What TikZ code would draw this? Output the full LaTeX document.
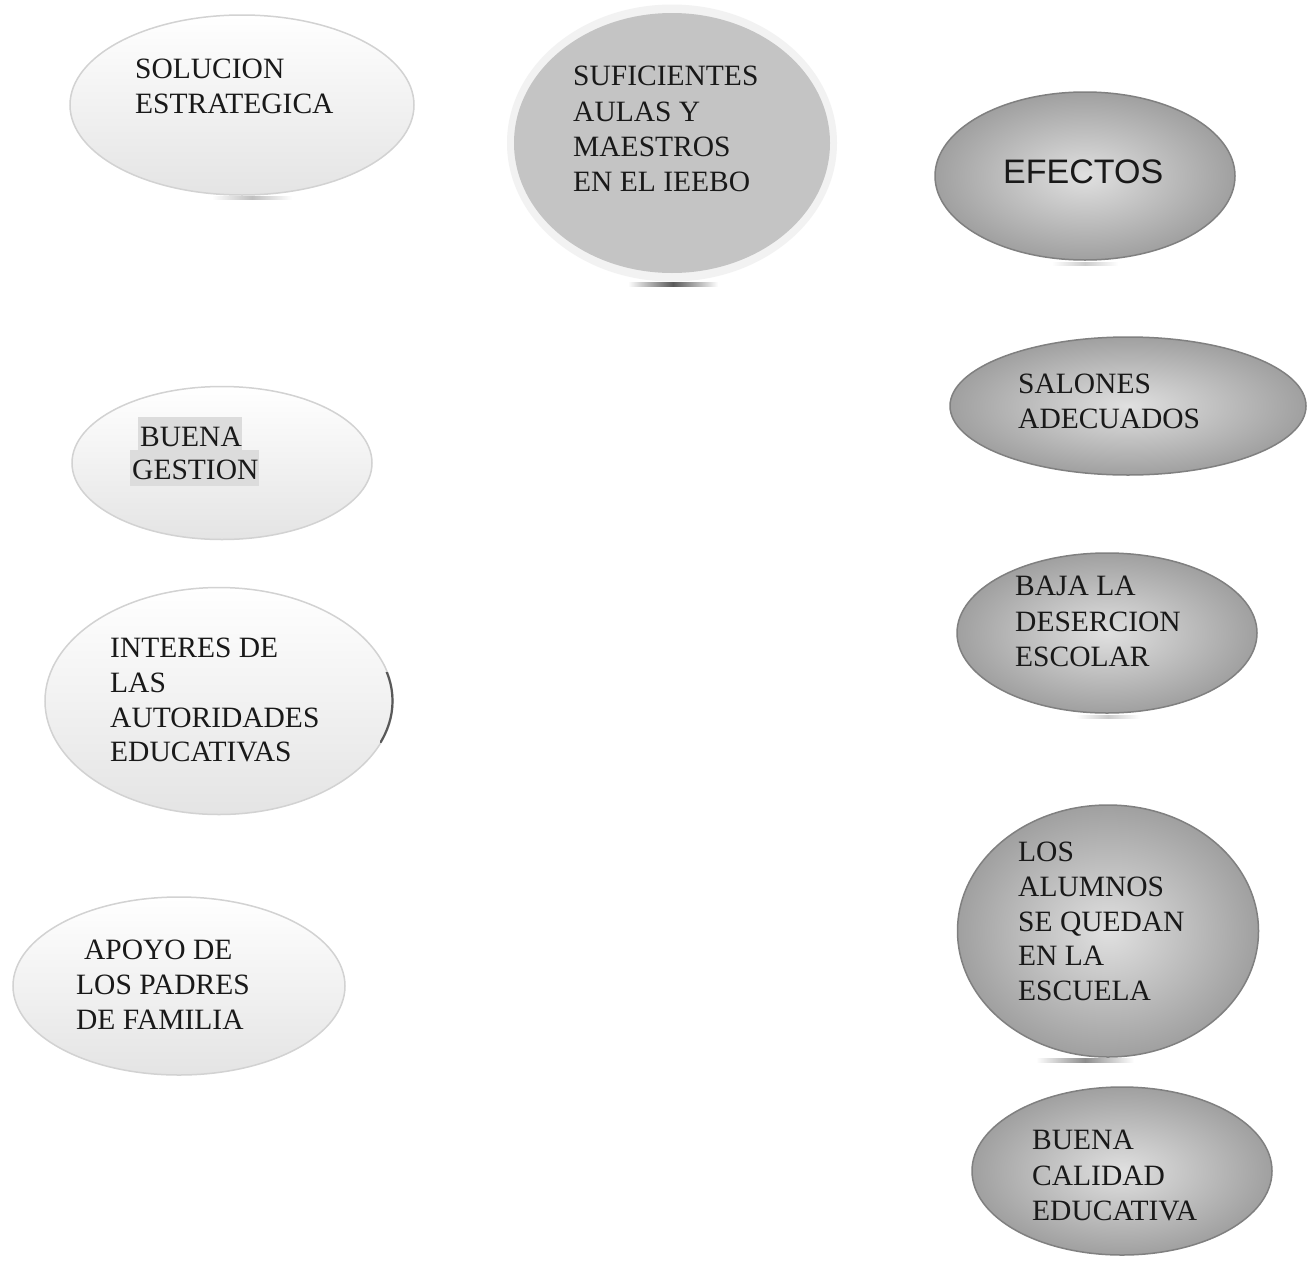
\documentclass[tikz,border=0pt]{standalone}
\usepackage{fontspec}
\setmainfont{Liberation Serif}
\newfontfamily\arialf{Liberation Sans}
\usetikzlibrary{shapes.geometric}
\definecolor{lightedge}{RGB}{210,210,210}
\definecolor{lightbot}{RGB}{228,228,228}
\definecolor{darkedge}{RGB}{128,128,128}
\definecolor{darkin}{RGB}{224,224,224}
\definecolor{darkout}{RGB}{160,160,160}
\definecolor{sufring}{RGB}{242,242,242}
\definecolor{sufgray}{RGB}{196,196,196}
\definecolor{hilite}{RGB}{220,220,220}
\tikzset{
  lightell/.style={ellipse, inner sep=0pt, draw=lightedge, line width=1.5pt,
    top color=white, bottom color=lightbot},
  darkell/.style={ellipse, inner sep=0pt, draw=darkedge, line width=1.5pt,
    shading=radial, inner color=darkin, outer color=darkout},
  txt/.style={anchor=base west, inner sep=0pt, text=black!90,
    font=\fontsize{29.5}{35}\selectfont},
  shadowline/.style={left color=white, right color=white, draw=none}
}
\begin{document}
\begin{tikzpicture}[x=1pt,y=-1pt]
\useasboundingbox (0,0) rectangle (1309,1261);
\fill[white] (0,0) rectangle (1309,1261);

% shadow strips
\shade[shadowline, middle color=black!25] (212,196) rectangle (292,199);
\shade[shadowline, middle color=black!65] (628,282) rectangle (718,286);
\shade[shadowline, middle color=black!20] (1052,262) rectangle (1118,265);
\shade[shadowline, middle color=black!20] (1076,715) rectangle (1140,718);
\shade[shadowline, middle color=black!45] (1036,1058) rectangle (1134,1062);

% left column
\node[lightell, minimum width=344pt, minimum height=180pt] (sol) at (242,105) {};
\node[lightell, minimum width=300pt, minimum height=153pt] (bg) at (222,463) {};
\node[lightell, minimum width=348pt, minimum height=227pt] (int) at (219,701) {};
\begin{scope}
  \clip (380,672) rectangle (400,742);
  \draw[black!65, line width=2.2pt] (int.center) ellipse[x radius=173.5, y radius=113];
\end{scope}
\node[lightell, minimum width=332pt, minimum height=178pt] (apo) at (179,986) {};

% centre
\node[ellipse, inner sep=0pt, fill=sufring, minimum width=330pt, minimum height=277pt] (sufo) at (672,143) {};
\node[ellipse, inner sep=0pt, fill=sufgray, minimum width=316pt, minimum height=260pt] (suf) at (672,143) {};

% right column
\node[darkell, minimum width=300pt, minimum height=168pt] (efe) at (1085,176) {};
\node[darkell, minimum width=356pt, minimum height=138pt] (sal) at (1128,406) {};
\node[darkell, minimum width=300pt, minimum height=160pt] (baj) at (1107,633) {};
\node[darkell, minimum width=301pt, minimum height=252pt] (los) at (1108,931) {};
\node[darkell, minimum width=300pt, minimum height=168pt] (bca) at (1122,1171) {};

% texts
\node[txt] (sol1) at (135,78) {SOLUCION};
\node[txt] (sol2) at (135,113) {ESTRATEGICA};

\fill[hilite] (138,417) rectangle (242,450);
\fill[hilite] (130,450) rectangle (259,486);
\node[txt] (bg1) at (140,446) {BUENA};
\node[txt] (bg2) at (132,479) {GESTION};

\node[txt] (int1) at (110,657) {INTERES DE};
\node[txt] (int2) at (110,692) {LAS};
\node[txt] (int3) at (110,727) {AUTORIDADES};
\node[txt] (int4) at (110,761) {EDUCATIVAS};

\node[txt] (apo1) at (84,959) {APOYO DE};
\node[txt] (apo2) at (76,994) {LOS PADRES};
\node[txt] (apo3) at (76,1029) {DE FAMILIA};

\node[txt] (suf1) at (573,85) {SUFICIENTES};
\node[txt] (suf2) at (573,121) {AULAS Y};
\node[txt] (suf3) at (573,156) {MAESTROS};
\node[txt] (suf4) at (573,191) {EN EL IEEBO};

\node[anchor=base west, inner sep=0pt, text=black!90, font=\arialf\fontsize{34}{40}\selectfont] (efe1) at (1003,183) {EFECTOS};

\node[txt] (sal1) at (1018,393) {SALONES};
\node[txt] (sal2) at (1018,428) {ADECUADOS};

\node[txt] (baj1) at (1015,595) {BAJA LA};
\node[txt] (baj2) at (1015,631) {DESERCION};
\node[txt] (baj3) at (1015,666) {ESCOLAR};

\node[txt] (los1) at (1018,861) {LOS};
\node[txt] (los2) at (1018,896) {ALUMNOS};
\node[txt] (los3) at (1018,931) {SE QUEDAN};
\node[txt] (los4) at (1018,965) {EN LA};
\node[txt] (los5) at (1018,1000) {ESCUELA};

\node[txt] (bca1) at (1032,1149) {BUENA};
\node[txt] (bca2) at (1032,1185) {CALIDAD};
\node[txt] (bca3) at (1032,1220) {EDUCATIVA};
\end{tikzpicture}
\end{document}
